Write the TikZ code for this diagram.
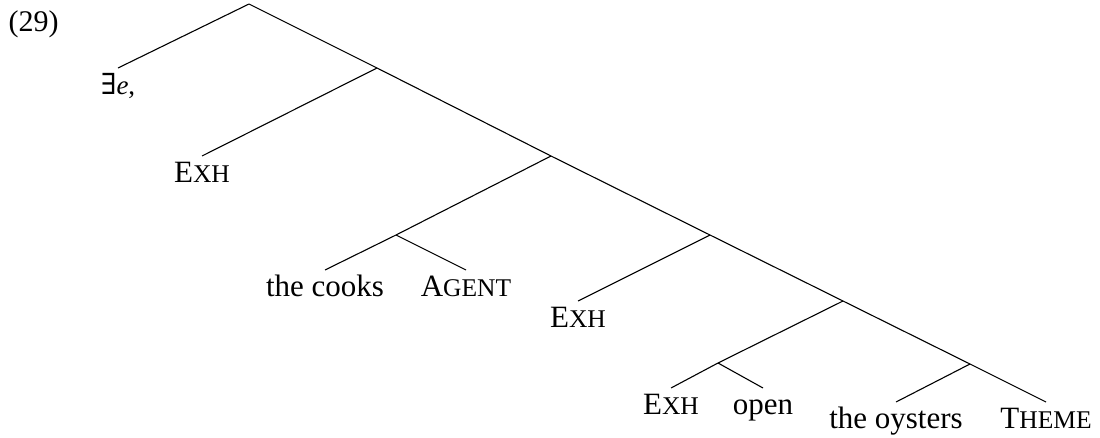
\documentclass[tikz,border=0pt]{standalone}
\usepackage{fontspec}
\setmainfont{Liberation Serif}
\newfontfamily\symbolfont{DejaVu Serif}
% faked small capitals: reduced upper-case letters
\newcommand{\smallcap}[1]{{\fontsize{25.5}{30}\selectfont #1}}
\begin{document}
\begin{tikzpicture}[x=1pt,y=-1pt,line width=1.1pt,
  leaf/.style={font=\fontsize{31}{36}\selectfont, inner xsep=0pt, inner ysep=6pt,
               text height=20pt, text depth=7pt, anchor=north}]
\useasboundingbox (0,0) rectangle (1100,437);

% example number
\node[font=\fontsize{30}{36}\selectfont, anchor=base west, inner sep=0pt] (num) at (8,31) {(29)};

% branching points
\coordinate (root) at (249,4);
\coordinate (n1) at (377,68);
\coordinate (n2) at (551,156);
\coordinate (n3) at (396,235);
\coordinate (n4) at (710,235);
\coordinate (n5) at (843,301);
\coordinate (n6) at (718,363);
\coordinate (n7) at (970,364);

% terminal labels
\node[leaf] (ex) at (118,68) {{\fontsize{29}{32}\symbolfont ∃}{\fontsize{27}{32}\selectfont\textit{e},}};
\node[leaf] (exh1) at (202,156) {E\smallcap{XH}};
\node[leaf] (cooks) at (325,270) {the cooks};
\node[leaf] (agent) at (466,270) {A\smallcap{GENT}};
\node[leaf] (exh2) at (578,301) {E\smallcap{XH}};
\node[leaf] (exh3) at (671,388) {E\smallcap{XH}};
\node[leaf] (open) at (763,388) {open};
\node[leaf] (oysters) at (896,402) {the oysters};
\node[leaf] (theme) at (1046,402) {T\smallcap{HEME}};

% branches
\draw (root) -- (ex.north);
\draw (root) -- (n1);
\draw (n1) -- (exh1.north);
\draw (n1) -- (n2);
\draw (n2) -- (n3);
\draw (n2) -- (n4);
\draw (n3) -- (cooks.north);
\draw (n3) -- (agent.north);
\draw (n4) -- (exh2.north);
\draw (n4) -- (n5);
\draw (n5) -- (n6);
\draw (n5) -- (n7);
\draw (n6) -- (exh3.north);
\draw (n6) -- (open.north);
\draw (n7) -- (oysters.north);
\draw (n7) -- (theme.north);
\end{tikzpicture}
\end{document}
